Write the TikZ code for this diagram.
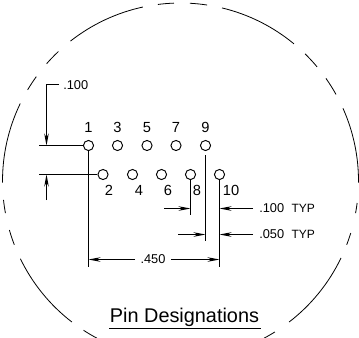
\documentclass[tikz,border=0pt]{standalone}
\usepackage{fontspec}
\setmainfont{Liberation Sans}
\usetikzlibrary{calc,positioning,arrows.meta}
\tikzset{
	pin/.style={draw, circle, line width=0.7pt, minimum size=7.6pt, inner sep=0pt},
	dimline/.style={line width=0.65pt, line cap=butt},
	dimarrow/.style={dimline, -{Stealth[length=9pt,width=3.4pt]}},
	pinlabel/.style={font=\fontsize{11}{13}\selectfont, inner sep=0pt},
	dimlabel/.style={font=\fontsize{9.6}{11}\selectfont, inner sep=0pt}
}
\begin{document}
\begin{tikzpicture}[x=0.75pt, y=-0.75pt]
			\useasboundingbox (0,0) rectangle (359,337);
			\coordinate (C) at (180.5,181);
			% broken outline
			\foreach \a/\b in {-87/-81.4, -76.5/-50.4, -45.6/-39.9, -35.2/-29.1, -24.1/0.5, 7.1/10.4, 17/21, 25.6/52.4, 58/62, 118/123, 127.6/154.1, 159/164, 169.6/173.9, 179.5/205.8, 210.8/215.9, 221.2/226.7, 231.8/257.8, 262.7/267.9}
				\draw[line width=0.6pt] ($(C)+(\a:178)$) arc[start angle=\a, end angle=\b, radius=178];
			% pins
			\foreach \n/\x in {1/88.5,3/117.5,5/147,7/176,9/205.5}
				\node[pin] (P\n) at (\x,145.5) {};
			\foreach \n/\x in {2/103,4/132.5,6/161.5,8/190.5,10/219.5}
				\node[pin] (P\n) at (\x,174.5) {};
			\foreach \n in {1,3,5,7,9}
				\node[pinlabel] (L\n) at ($(P\n)+(0,-18)$) {\n};
			\node[pinlabel] (L2) at (109,190) {2};
			\node[pinlabel] (L4) at (139,190) {4};
			\node[pinlabel] (L6) at (168,190) {6};
			\node[pinlabel] (L8) at (197,190) {8};
			\node[pinlabel] (L10) at (231,190) {10};
			% pitch on the left
			\node[dimlabel, anchor=west] (Dpitch) at (63,85) {.100};
			\coordinate (A) at (46.5,84.5);
			\coordinate (B) at (39,145.5);
			\coordinate (D) at (39,174.5);
			\coordinate (E) at (46.5,200);
			\draw[dimline] (P1.west)--(B);
			\draw[dimline] (P2.west)--(D);
			\draw[dimarrow] (59,84.5)--(A)--(A|-P1);
			\draw[dimarrow] (E)--(E|-P2);
			% extension lines
			\coordinate (F) at (88.5,267);
			\coordinate (G) at (205.5,155);
			\coordinate (H) at (205.5,241);
			\coordinate (I) at (190.5,215);
			\coordinate (J) at (219.5,267);
			\draw[dimline] (P1.south)--(F);
			\draw[dimline] (G)--(H);
			\draw[dimline] (P8.south)--(I);
			\draw[dimline] (P10.south)--(J);
			% dimensions on the right
			\node[dimlabel, anchor=west] (Dtypa) at (259,208) {.100\hspace{5.5pt}{\fontsize{9}{10}\selectfont TYP}};
			\node[dimlabel, anchor=west] (Dtypb) at (259,234) {.050\hspace{5.5pt}{\fontsize{9}{10}\selectfont TYP}};
			\node[dimlabel] (Dspan) at (153,259) {.450};
			\coordinate (K) at (164,208.5);
			\coordinate (M) at (178,234.5);
			\coordinate (N) at (253,208.5);
			\coordinate (Q) at (253,234.5);
			\coordinate (R) at (135,259.5);
			\coordinate (S) at (171,259.5);
			\draw[dimarrow] (K)--(K-|I);
			\draw[dimarrow] (N)--(N-|J);
			\draw[dimarrow] (M)--(M-|H);
			\draw[dimarrow] (Q)--(Q-|J);
			\draw[dimarrow] (R)--(R-|F);
			\draw[dimarrow] (S)--(S-|J);
			% title
			\node[font=\fontsize{14.9}{17}\selectfont, inner sep=0pt] (T) at (184.5,317.5) {Pin Designations};
			\coordinate (U) at (109,328.5);
			\coordinate (W) at (261,328.5);
			\draw[line width=0.9pt] (U)--(W);
	\end{tikzpicture}
\end{document}
